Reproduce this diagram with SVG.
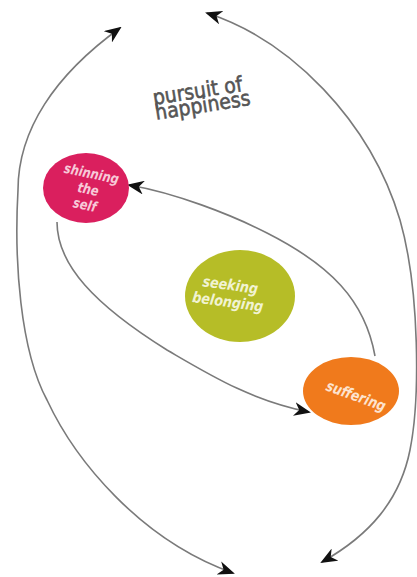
<svg xmlns="http://www.w3.org/2000/svg" width="417" height="577" viewBox="0 0 417 577">
  <style>
    .link { fill: none; stroke: #7a7a7a; stroke-width: 1.6; }
    .label { font-family: "DejaVu Sans", "Liberation Sans", sans-serif; font-weight: bold; font-style: italic; text-anchor: middle; }
    .title { font-family: "DejaVu Sans", "Liberation Sans", sans-serif; font-size: 21px; fill: #555555; stroke: #555555; stroke-width: 0.6; }
  </style>
  <defs>
    <marker id="barb" markerUnits="userSpaceOnUse" markerWidth="17" markerHeight="14" viewBox="0 0 17 14" refX="15" refY="7" orient="auto-start-reverse">
      <path d="M0,0 L17,7 L0,14 L5,7 Z" fill="#111111"/>
    </marker>
  </defs>

  <rect width="417" height="577" fill="#ffffff"/>

  <!-- connectors -->
  <g id="connectors">
    <!-- outer left loop, arrow at both ends -->
    <path class="link" d="M120,28 C55,75 18,130 18,190 C14,260 20,350 47,400 C75,460 140,540 233,573" marker-start="url(#barb)" marker-end="url(#barb)"/>
    <!-- outer right loop, arrow at both ends -->
    <path class="link" d="M207,13 C290,40 370,120 400,220 C420,290 420,400 410,450 C400,500 370,535 322,562" marker-start="url(#barb)" marker-end="url(#barb)"/>
    <!-- suffering back to shinning the self -->
    <path class="link" d="M375,356 C365,300 330,265 267,233 C230,214 175,193 129,185" marker-end="url(#barb)"/>
    <!-- shinning the self down to suffering -->
    <path class="link" d="M57,222 C57,265 95,305 167,350 C210,375 250,400 309,412" marker-end="url(#barb)"/>
  </g>

  <!-- heading -->
  <g id="title" transform="translate(154,105) rotate(-9) scale(0.9,1)">
    <text class="title" x="0" y="0">pursuit of</text>
    <text class="title" x="0" y="15">happiness</text>
  </g>

  <g id="shinning-the-self">
    <ellipse cx="86" cy="188" rx="43" ry="35" fill="#da1f5e"/>
    <g transform="translate(88,190) rotate(12) scale(0.82,1)" fill="#f7c9d8">
      <text class="label" x="0" y="-12" font-size="14">shinning</text>
      <text class="label" x="0" y="4" font-size="14">the</text>
      <text class="label" x="0" y="20" font-size="14">self</text>
    </g>
  </g>

  <g id="seeking-belonging">
    <ellipse cx="240" cy="296" rx="55" ry="46" fill="#b6bd27"/>
    <g transform="translate(229,294) rotate(8) scale(0.85,1)" fill="#f1f3d2">
      <text class="label" x="0" y="-4" font-size="15">seeking</text>
      <text class="label" x="0" y="13" font-size="15">belonging</text>
    </g>
  </g>

  <g id="suffering">
    <ellipse cx="351" cy="391" rx="48" ry="34" fill="#f07a1c"/>
    <g transform="translate(356,396) rotate(20) scale(0.82,1)" fill="#fde3cf">
      <text class="label" x="0" y="5" font-size="15">suffering</text>
    </g>
  </g>
</svg>
